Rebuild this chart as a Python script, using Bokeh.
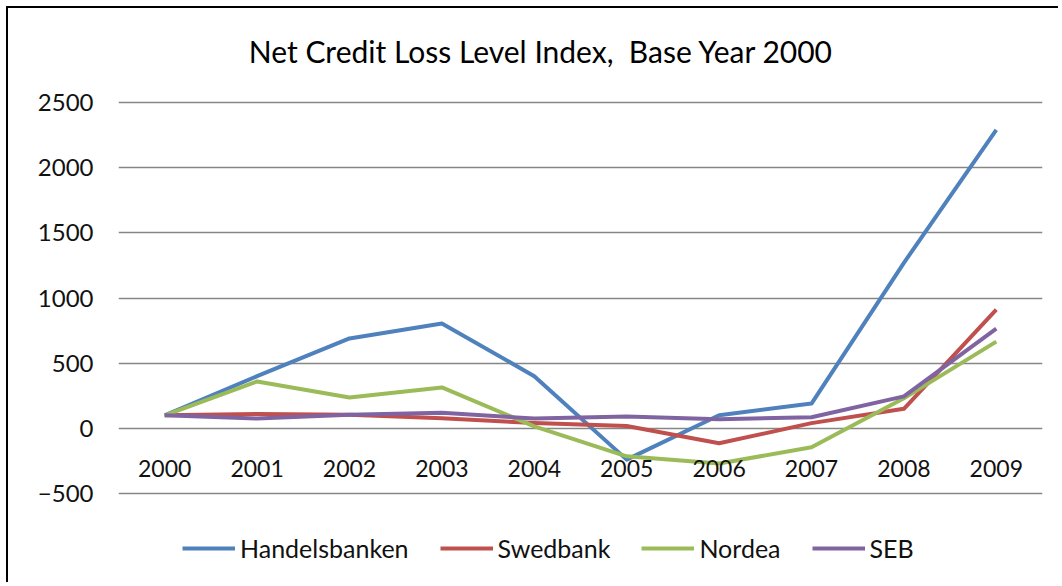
from bokeh.plotting import figure
from bokeh.models import FactorRange, Range1d, FixedTicker, Legend, LegendItem, ColumnDataSource
from bokeh.core.properties import value
from bokeh.embed import file_html
from bokeh.resources import INLINE

years = ["2000", "2001", "2002", "2003", "2004", "2005", "2006", "2007", "2008", "2009"]
handelsbanken = [100, 400, 690, 805, 400, -240, 100, 190, 1270, 2290]
swedbank = [100, 110, 105, 77, 40, 18, -115, 40, 150, 910]
nordea = [100, 360, 237, 314, 15, -215, -270, -145, 230, 665]
seb = [100, 75, 105, 120, 75, 90, 70, 85, 245, 765]
y_ticks = [-500, 0, 500, 1000, 1500, 2000, 2500]
series_names = ["Handelsbanken", "Swedbank", "Nordea", "SEB"]
series_colors = ["#4F81BD", "#C0504D", "#9BBB59", "#8064A2"]
title_text = "Net Credit Loss Level Index,\u00a0 Base Year 2000"

FONT = "Lato"

# layout: the value axis spans 391 px; the frame extends above it (title) and below it (legend)
PX_PER_UNIT = 391.0 / (max(y_ticks) - min(y_ticks))
TOP_EXTRA_PX = 94
BOTTOM_EXTRA_PX = 87
TITLE_ABOVE_PX = 52
y_start = min(y_ticks) - BOTTOM_EXTRA_PX / PX_PER_UNIT
y_end = max(y_ticks) + TOP_EXTRA_PX / PX_PER_UNIT

p = figure(
    width=1052, height=576,
    x_range=FactorRange(factors=years, range_padding=0),
    y_range=Range1d(y_start, y_end),
    output_backend="svg", toolbar_location=None,
    min_border_left=110, min_border_right=18,
    min_border_top=0, min_border_bottom=4,
)
p.styles = {"margin-top": "6px", "margin-left": "6px",
            "border-top": "2px solid #000", "border-left": "2px solid #000"}
p.outline_line_color = None
p.background_fill_color = "white"
p.border_fill_color = "white"

p.xaxis.visible = False
p.xgrid.grid_line_color = None
p.ygrid.grid_line_color = "#868686"
p.ygrid.grid_line_width = 1.3

yax = p.yaxis[0]
yax.ticker = FixedTicker(ticks=y_ticks)
yax.axis_line_color = None
yax.major_tick_line_color = None
yax.minor_tick_line_color = None
yax.major_label_text_font = FONT
yax.major_label_text_font_size = "24px"
yax.major_label_text_color = "#111111"
yax.major_label_standoff = 19

renderers = []
for name, vals, col in zip(series_names, [handelsbanken, swedbank, nordea, seb], series_colors):
    src = ColumnDataSource(dict(x=years, y=vals))
    r = p.line("x", "y", source=src, line_color=col, line_width=4, line_join="round")
    renderers.append(r)

lab_src = ColumnDataSource(dict(x=years, y=[0] * len(years), t=years))
p.text("x", "y", text="t", source=lab_src, text_font=value(FONT), text_font_size="23px",
       text_align="center", text_baseline="middle", y_offset=40, text_color="#111111")

# chart title, drawn inside the extended top of the frame
title_y = max(y_ticks) + TITLE_ABOVE_PX / PX_PER_UNIT
p.text(x=[years[4]], y=[title_y], text=[title_text], text_font=value(FONT),
       text_font_size="30px", text_align="center", text_baseline="middle",
       x_offset=7, text_color="#000000")

legend = Legend(
    items=[LegendItem(label=n, renderers=[r]) for n, r in zip(series_names, renderers)],
    orientation="horizontal", location=(64, 17),
    glyph_width=53, glyph_height=20, label_standoff=5, spacing=31,
    padding=0, margin=0, border_line_color=None, background_fill_alpha=0,
    label_text_font=FONT, label_text_font_size="25px", label_text_color="#111111",
)
p.add_layout(legend, "center")

open("out.html", "w").write(file_html(p, INLINE))
